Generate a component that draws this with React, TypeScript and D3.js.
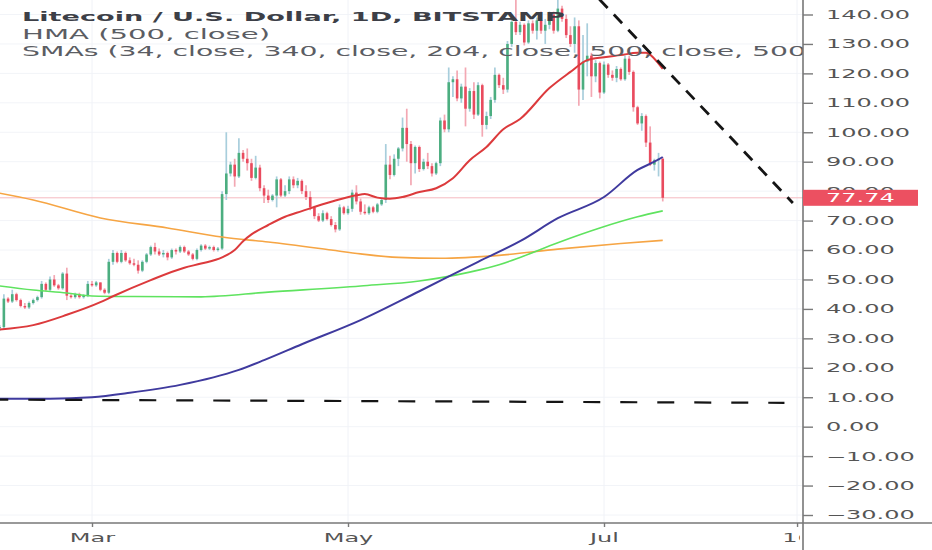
import React, { useEffect, useRef } from 'react';
import * as d3 from 'd3';

type Candle = [number, number, number, number]; // open, high, low, close
type Knot = [number, number]; // day index from first candle, price

const firstCandle = Date.UTC(2019, 1, 7);
const lastClose = 77.74;

// daily LTC/USD candles, one per day starting Feb 7
const candles: Candle[] = [
  [33.5, 34.5, 32.5, 33.8], [33.8, 45, 33, 43.5], [43.5, 44, 42, 42.5], [42.5, 46.5, 42, 45],
  [45, 45.5, 42.5, 43], [43, 43.5, 40.5, 41], [41, 42, 40, 40.5], [40.5, 42.5, 40, 42],
  [42, 43.5, 41.5, 43], [43, 44.5, 42.5, 44], [44, 49.5, 43.5, 48.5], [48.5, 49, 46, 46.5],
  [46.5, 51, 46, 50], [50, 51.5, 47.5, 48], [48, 48.5, 46.5, 47], [47, 52.5, 46.5, 52],
  [52, 54, 43, 44.5], [44.5, 45, 43.5, 44], [44, 45.5, 43.5, 45], [45, 45.5, 43.5, 44],
  [44, 45, 43.5, 44.5], [44.5, 49.5, 44, 48.5], [48.5, 49.5, 47.5, 48], [48, 49.5, 47.5, 49],
  [49, 49, 46, 46.5], [46.5, 47, 45, 45.5], [45.5, 57, 45, 56], [56, 60, 55, 59],
  [59, 59.5, 55.5, 56], [56, 60, 55.5, 59], [59, 59.5, 56, 56.5], [56.5, 57.5, 55, 55.5],
  [55.5, 57, 54.5, 55], [55, 56.5, 52, 53], [53, 56.5, 52.5, 56], [56, 59, 55.5, 58.5],
  [58.5, 61.5, 58, 61], [61, 62.5, 58.5, 59.5], [59.5, 60.5, 58, 58.5], [58.5, 60, 57.5, 59],
  [59, 59.5, 56.5, 57.5], [57.5, 60.5, 57, 60], [60, 60.5, 58.5, 59.5], [59.5, 61.5, 59, 61],
  [61, 61.5, 59, 59.5], [59.5, 60, 58, 58.5], [58.5, 59, 56.5, 57], [57, 60.5, 56.5, 60],
  [60, 62, 59.5, 61.5], [61.5, 62, 60, 60.5], [60.5, 61.5, 60, 61], [61, 61.5, 59.5, 60],
  [60, 61, 59.5, 60.5], [60.5, 80, 60, 79], [79, 100, 77, 86], [86, 90, 85, 89],
  [89, 91, 81.5, 85], [85, 98, 84.5, 93], [93, 94, 90, 91], [91, 94.5, 87, 89.5],
  [89.5, 91, 83.5, 84.5], [84.5, 92, 84, 88], [88, 89, 80, 81], [81, 82, 76, 78.5],
  [78.5, 80.5, 76, 77], [77, 79, 76.5, 78.5], [78.5, 85, 74.5, 84], [84, 84.5, 78, 78.5],
  [78.5, 82, 78, 80], [80, 85, 79, 84], [84, 85, 81, 82], [82, 84.5, 81, 83.5],
  [83.5, 84, 79, 80], [80, 82, 77, 78], [78, 80, 73.5, 74.5], [74.5, 75, 70.5, 71.5],
  [71.5, 72.5, 69.5, 70], [70, 73.5, 69.5, 72.5], [72.5, 73, 70, 70.5], [70.5, 71.5, 68, 68.5],
  [68.5, 69.5, 66, 67], [67, 75.5, 66.5, 74.5], [74.5, 75, 72, 72.5], [72.5, 75, 72, 74],
  [74, 80.5, 73, 79.5], [79.5, 82, 75.5, 76.5], [76.5, 77.5, 72, 73], [73, 75.5, 72, 72.5],
  [72.5, 75, 72, 74.5], [74.5, 75, 72.5, 73], [73, 76, 72.5, 75.5], [75.5, 77.5, 75, 77],
  [77, 96, 76, 89], [89, 92, 84, 85.5], [85.5, 92.5, 85, 91], [91, 95, 88.5, 94.5],
  [94.5, 105, 93.5, 101.5], [101.5, 108, 90, 96], [96, 97, 82, 89.5], [89.5, 95.5, 86, 95],
  [95, 95.5, 86.5, 87.5], [87.5, 91, 87, 90], [90, 93, 87.5, 88.5], [88.5, 89.5, 85, 86],
  [86, 90, 85.5, 89.5], [89.5, 105, 88.5, 104], [104, 106, 100, 101], [101, 122, 100, 117],
  [117, 119, 112, 118], [118, 121, 110.5, 111.5], [111.5, 116.5, 110, 115.5], [115.5, 122, 102, 108],
  [108, 115, 107, 114], [114, 117, 104.5, 106], [106, 117, 105.5, 116], [116, 116.5, 98.5, 102.5],
  [102.5, 107, 101, 105.5], [105.5, 112, 104.5, 111], [111, 122, 110, 119.5], [119.5, 120, 115, 116],
  [116, 118.5, 113, 114.5], [114.5, 131, 113.5, 130], [130, 140, 129, 137.5], [137.5, 146, 133, 134],
  [134, 137.5, 133, 136.5], [136.5, 137, 129.5, 130.5], [130.5, 138, 130, 137], [137, 138, 133.5, 134.5],
  [134.5, 139, 131.5, 138], [138, 141, 133.5, 134.5], [134.5, 138.5, 130, 136.5], [136.5, 141, 135, 140],
  [140, 141, 133.5, 134.5], [134.5, 148, 134, 142], [142, 143, 137.5, 138.5], [138.5, 140, 132, 133],
  [133, 136, 129, 130], [130, 139, 127, 136], [136, 138, 109, 114.5], [114.5, 133, 111, 124],
  [124, 137, 119, 126], [126, 127, 112, 119], [119, 124.5, 117, 123.5], [123.5, 124, 111.5, 113.5],
  [113.5, 124, 113, 123], [123, 123.5, 118.5, 119.5], [119.5, 121, 117.5, 118.5], [118.5, 122.5, 117, 121.5],
  [121.5, 122, 117.5, 118], [118, 126, 117.5, 125], [125, 126, 119.5, 120.5], [120.5, 121, 107, 108.5],
  [108.5, 109, 102.5, 103], [103, 106.5, 100.5, 105.5], [105.5, 106, 95, 96.5], [96.5, 102, 88.5, 89],
  [89, 91, 87, 90.5], [90.5, 93, 85, 91], [91, 91.5, 76.5, 77.74],
];

// moving averages
const smaRed: Knot[] = [
  [0, 33], [8, 34.5], [16, 38], [24, 42.3], [27, 44.3], [36, 49.8], [44, 54], [48, 55.4],
  [53, 57.5], [56, 60], [58, 63], [60, 65.3], [64, 68.5], [68, 71.3], [72, 73.2], [79, 76.4],
  [85, 78.6], [87, 79], [90, 77.8], [93, 77.4], [96, 78], [100, 79.7], [104, 81], [108, 84.4],
  [112, 90.5], [116, 95], [120, 101], [124, 104.5], [131, 115], [136, 120.5], [140, 124.5],
  [144, 125.5], [148, 126.2], [152, 127], [154, 127], [156, 125], [158, 121.5],
];
const hmaBlue: Knot[] = [
  [0, 9.5], [12, 9.5], [22, 10], [31, 11.5], [43, 14.2], [57, 19.3], [63, 22.6], [72, 28],
  [86, 36.2], [100, 46], [114, 56], [124, 63], [133, 70.8], [144, 78], [152, 87.2], [156, 90], [158, 91.6],
];
const smaGreen: Knot[] = [
  [0, 47.8], [8, 46.4], [16, 45.4], [22, 44.4], [32, 44.2], [48, 44.1], [64, 45.7], [86, 47.8],
  [100, 49.5], [112, 52.5], [119, 55], [124, 57.5], [133, 62.5], [143, 67.5], [152, 71.3], [158, 73.3],
];
const smaOrange: Knot[] = [
  [0, 79.3], [8, 77], [24, 70.9], [40, 67.5], [53, 64.4], [64, 62.7], [79, 60], [86, 58.7],
  [95, 57.5], [105, 57.2], [119, 58.2], [133, 60.3], [148, 62.2], [158, 63.3],
];

// hand drawn lines
const trendLine: Knot[] = [[136, 155.5], [189, 76]];
const supportLine: Knot[] = [[-2, 9.2], [187, 8.1]];

const priceTicks = [140, 130, 120, 110, 100, 90, 80, 70, 60, 50, 40, 30, 20, 10, 0, -10, -20, -30];
const timeTicks = ['2019-03-01', '2019-05-01', '2019-07-01', '2019-08-16'];
const timeLabels = ['Mar', 'May', 'Jul', '16'];

const titleLines = [
  'Litecoin / U.S. Dollar, 1D, BITSTAMP',
  'HMA (500, close)',
  'SMAs (34, close, 340, close, 204, close, 500, close, 500, close)',
];

export default function App() {
  const ref = useRef<SVGSVGElement>(null);

  useEffect(() => {
    const width = 932;
    const height = 550;
    const plotRight = 803;
    const plotBottom = 523;
    const font = 'DejaVu Sans, sans-serif';

    const svg = d3.select(ref.current!);
    svg.selectAll('*').remove();

    const day = (i: number) => new Date(firstCandle + i * 864e5);
    const x = d3
      .scaleUtc()
      .domain([new Date(Date.UTC(2019, 2, 1)), new Date(Date.UTC(2019, 6, 1))])
      .range([92, 604]);
    const y = d3.scaleLinear().domain([140, -30]).range([14.5, 515]);

    const defs = svg.append('defs');
    defs.append('clipPath').attr('id', 'plot')
      .append('rect').attr('width', plotRight).attr('height', plotBottom);
    defs.append('clipPath').attr('id', 'xlabels')
      .append('rect').attr('x', -10).attr('y', -600).attr('width', 810).attr('height', 1200);

    svg.append('rect').attr('width', width).attr('height', height).attr('fill', '#fff');

    const plot = svg.append('g').attr('clip-path', 'url(#plot)');

    // grid
    plot.selectAll('line.hgrid').data(priceTicks).enter().append('line')
      .attr('x1', 0).attr('x2', plotRight)
      .attr('y1', d => y(d)).attr('y2', d => y(d))
      .attr('stroke', '#f2f4f8');
    plot.selectAll('line.vgrid').data(timeTicks).enter().append('line')
      .attr('x1', d => x(new Date(d))).attr('x2', d => x(new Date(d)))
      .attr('y1', 0).attr('y2', plotBottom)
      .attr('stroke', '#f0f2f7');

    // last price line
    plot.append('line')
      .attr('x1', 0).attr('x2', plotRight)
      .attr('y1', y(lastClose)).attr('y2', y(lastClose))
      .attr('stroke', '#f6b9c0').attr('stroke-width', 1);

    // candles
    const bar = plot.selectAll('g.candle').data(candles).enter().append('g');
    bar.append('line')
      .attr('x1', (d, i) => x(day(i))).attr('x2', (d, i) => x(day(i)))
      .attr('y1', d => y(d[1])).attr('y2', d => y(d[2]))
      .attr('stroke', d => (d[3] >= d[0] ? '#a8cedc' : '#f3a8b3'))
      .attr('stroke-width', 1.7);
    bar.append('rect')
      .attr('x', (d, i) => x(day(i)) - 1.3)
      .attr('width', 2.6)
      .attr('y', d => y(Math.max(d[0], d[3])))
      .attr('height', d => Math.max(1, Math.abs(y(d[0]) - y(d[3]))))
      .attr('fill', d => (d[3] >= d[0] ? '#4cae80' : '#e94b5e'));

    // moving averages
    const curve = d3.line<Knot>()
      .x(d => x(day(d[0])))
      .y(d => y(d[1]))
      .curve(d3.curveMonotoneX);
    const averages: [Knot[], string, number][] = [
      [smaOrange, '#f6a544', 1.6],
      [smaGreen, '#5fe35f', 1.6],
      [hmaBlue, '#3f3a9e', 2],
      [smaRed, '#dc3a3c', 2],
    ];
    averages.forEach(([pts, color, w]) => {
      plot.append('path')
        .attr('d', curve(pts)!)
        .attr('fill', 'none')
        .attr('stroke', color)
        .attr('stroke-width', w);
    });

    // dashed drawings
    const straight = d3.line<Knot>().x(d => x(day(d[0]))).y(d => y(d[1]));
    plot.append('path')
      .attr('d', straight(supportLine)!)
      .attr('fill', 'none').attr('stroke', '#151515')
      .attr('stroke-width', 2.2).attr('stroke-dasharray', '17,20');
    plot.append('path')
      .attr('d', straight(trendLine)!)
      .attr('fill', 'none').attr('stroke', '#151515')
      .attr('stroke-width', 2.8).attr('stroke-dasharray', '12,9');

    // legend
    const legend = plot.append('g').attr('font-family', font);
    legend.append('text')
      .attr('x', 22).attr('y', 21)
      .attr('font-size', 13).attr('font-weight', 'bold').attr('fill', '#3d3f47')
      .attr('textLength', 543).attr('lengthAdjust', 'spacingAndGlyphs')
      .text(titleLines[0]);
    legend.append('text')
      .attr('x', 22).attr('y', 38.5)
      .attr('font-size', 13.5).attr('fill', '#5b5d63')
      .attr('textLength', 248).attr('lengthAdjust', 'spacingAndGlyphs')
      .text(titleLines[1]);
    legend.append('text')
      .attr('x', 22).attr('y', 55.5)
      .attr('font-size', 13.5).attr('fill', '#5b5d63')
      .attr('textLength', 886).attr('lengthAdjust', 'spacingAndGlyphs')
      .text(titleLines[2]);

    // price axis
    const yAxis = svg.append('g')
      .attr('transform', `translate(${plotRight},0)`)
      .call(
        d3.axisRight(y)
          .tickValues(priceTicks)
          .tickSize(10)
          .tickFormat(d => d3.format('.2f')(d as number))
      );
    yAxis.select('.domain').remove();
    yAxis.selectAll('.tick line').attr('stroke', '#7a7a7a').attr('stroke-width', 1.4);
    yAxis.selectAll('.tick text')
      .attr('x', 11.5).attr('dy', '0.33em')
      .attr('transform', 'scale(2,1)')
      .attr('fill', '#555').attr('font-size', 12).attr('font-family', font);

    // time axis
    const xAxis = svg.append('g')
      .attr('transform', `translate(0,${plotBottom})`)
      .attr('clip-path', 'url(#xlabels)')
      .call(
        d3.axisBottom(x)
          .tickValues(timeTicks.map(d => new Date(d)))
          .tickSize(4)
          .tickFormat((d, i) => timeLabels[i])
      );
    xAxis.select('.domain').remove();
    xAxis.selectAll('.tick line').attr('stroke', '#7a7a7a').attr('stroke-width', 1.4);
    xAxis.selectAll('.tick text')
      .attr('y', 10)
      .attr('transform', 'scale(2,1)')
      .attr('fill', '#555').attr('font-size', 12).attr('font-family', font);

    // axis borders
    svg.append('line')
      .attr('x1', plotRight).attr('x2', plotRight).attr('y1', 0).attr('y2', height)
      .attr('stroke', '#777').attr('stroke-width', 1.6);
    svg.append('line')
      .attr('x1', 0).attr('x2', width).attr('y1', plotBottom).attr('y2', plotBottom)
      .attr('stroke', '#777').attr('stroke-width', 1.6);

    // last price tag
    const tag = svg.append('g').attr('transform', `translate(${plotRight},${y(lastClose)})`);
    tag.append('rect')
      .attr('x', 0).attr('y', -8).attr('width', 115).attr('height', 16)
      .attr('fill', '#ec5061');
    tag.append('text')
      .attr('x', 11.5).attr('dy', '0.35em')
      .attr('transform', 'scale(2,1)')
      .attr('fill', '#fff').attr('font-size', 12).attr('font-family', font)
      .text(d3.format('.2f')(lastClose));
  }, []);

  return (
    <svg
      ref={ref}
      width={932}
      height={550}
      style={{ position: 'absolute', left: 0, top: 0, display: 'block' }}
    />
  );
}
